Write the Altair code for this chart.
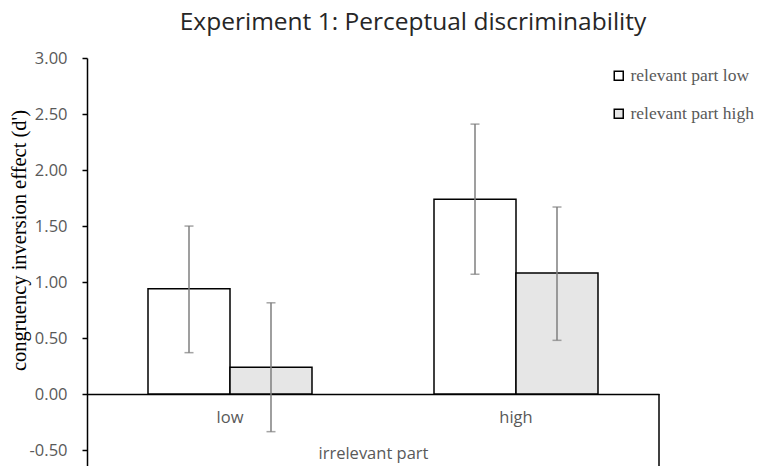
import altair as alt
import pandas as pd

# --- data ---
irrelevant = ["low", "low", "high", "high"]
relevant = ["relevant part low", "relevant part high", "relevant part low", "relevant part high"]
effect = [0.94, 0.24, 1.74, 1.08]
err_low = [0.37, -0.335, 1.07, 0.48]
err_high = [1.50, 0.815, 2.41, 1.67]
x_order = ["low", "high"]
rel_order = ["relevant part low", "relevant part high"]
y_ticks = [-0.5, 0.0, 0.5, 1.0, 1.5, 2.0, 2.5, 3.0]

df = pd.DataFrame({
    "irr": irrelevant,
    "rel": relevant,
    "value": effect,
    "lo": err_low,
    "hi": err_high,
})

Y_MAX = 3.0
UNIT = 112.04
W, H = 572, 408
Y_MIN = Y_MAX - H / UNIT

x_enc = alt.X(
    "irr:N",
    sort=x_order,
    scale=alt.Scale(paddingInner=0.4266, paddingOuter=0.2133),
    axis=alt.Axis(
        title="irrelevant part",
        offset=-(H - 3.0 * UNIT),
        ticks=False,
        domainColor="black",
        domainWidth=1.5,
        labelAngle=0,
        labelFont="Open Sans",
        labelFontSize=16.5,
        labelColor="#595959",
        labelBaseline="middle",
        labelPadding=23,
        titleFont="Open Sans",
        titleFontSize=16.5,
        titleFontWeight="normal",
        titleColor="#595959",
        titleBaseline="middle",
        titleY=59,
    ),
)
xoff = alt.XOffset("rel:N", sort=rel_order, scale=alt.Scale(paddingInner=0, paddingOuter=0))

y_scale = alt.Scale(domain=[Y_MIN, Y_MAX], nice=False, zero=False)

bars = alt.Chart(df).mark_bar(stroke="black", strokeWidth=1.5).encode(
    x=x_enc,
    xOffset=xoff,
    y=alt.Y(
        "value:Q",
        scale=y_scale,
        axis=alt.Axis(
            values=y_ticks,
            labelExpr="(datum.value < 0 ? '-' : '') + format(abs(datum.value), '.2f')",
            grid=False,
            domainColor="black",
            domainWidth=1.5,
            tickColor="black",
            tickWidth=1.5,
            tickSize=5,
            labelPadding=15,
            labelFont="Open Sans",
            labelFontSize=16.5,
            labelColor="#595959",
            title="congruency inversion effect (d')",
            titleFont="Liberation Serif",
            titleFontSize=20.5,
            titleFontWeight="normal",
            titleColor="black",
            titleAngle=-90,
            titleBaseline="middle",
            titleAlign="center",
            titleX=-68,
            titleY=182,
        ),
    ),
    y2=alt.datum(0),
    fill=alt.Fill(
        "rel:N",
        sort=rel_order,
        scale=alt.Scale(domain=rel_order, range=["white", "#e6e6e6"]),
        legend=alt.Legend(
            title=None,
            orient="none",
            legendX=523,
            legendY=9,
            padding=0,
            symbolType="square",
            symbolSize=81,
            symbolStrokeColor="black",
            symbolStrokeWidth=1.5,
            labelFont="Liberation Serif",
            labelFontSize=17.5,
            labelColor="#595959",
            labelOffset=3,
            rowPadding=19,
        ),
    ),
)

rules = alt.Chart(df).mark_rule(color="#7f7f7f", strokeWidth=1.5).encode(
    x=alt.X("irr:N", sort=x_order),
    xOffset=xoff,
    y=alt.Y("lo:Q", scale=y_scale),
    y2="hi:Q",
)

caps_lo = alt.Chart(df).mark_tick(color="#7f7f7f", thickness=1.5, size=9).encode(
    x=alt.X("irr:N", sort=x_order),
    xOffset=xoff,
    y=alt.Y("lo:Q", scale=y_scale),
)
caps_hi = alt.Chart(df).mark_tick(color="#7f7f7f", thickness=1.5, size=9).encode(
    x=alt.X("irr:N", sort=x_order),
    xOffset=xoff,
    y=alt.Y("hi:Q", scale=y_scale),
)

edge = alt.Chart(pd.DataFrame({"a": [0.0]})).mark_rule(color="black", strokeWidth=1.5).encode(
    x=alt.value(W),
    y=alt.Y("a:Q", scale=y_scale),
    y2=alt.datum(Y_MIN),
)

chart = alt.layer(bars, rules, caps_lo, caps_hi, edge).properties(
    width=W,
    height=H,
    padding={"left": 79, "top": 50, "right": 98, "bottom": 0},
    autosize=alt.AutoSizeParams(type="none"),
    title=alt.TitleParams(
        "Experiment 1: Perceptual discriminability",
        font="Open Sans",
        fontSize=24.5,
        fontWeight="normal",
        color="#262626",
        anchor="middle",
        dx=40,
        dy=-11,
    ),
).configure_view(stroke=None)

chart.save("out.html", embed_options={"renderer": "svg", "actions": False})
